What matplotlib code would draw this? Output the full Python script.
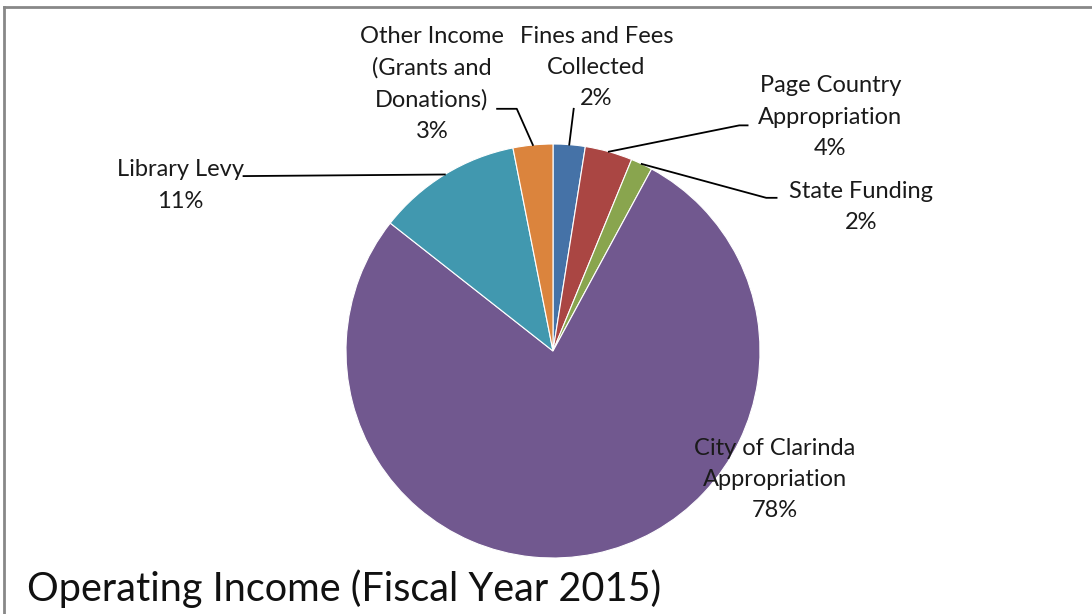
import numpy as np
import matplotlib.pyplot as plt
from matplotlib.lines import Line2D

labels = ['Fines and Fees\nCollected', 'Page Country\nAppropriation', 'State Funding',
          'City of Clarinda\nAppropriation', 'Library Levy',
          'Other Income\n(Grants and\nDonations)']
values = [2.5, 3.7, 1.7, 77.7, 11.3, 3.1]
pct_text = ['2%', '4%', '2%', '78%', '11%', '3%']
colors = ['#4572A7', '#AA4643', '#89A54E', '#71588F', '#4198AF', '#DB843D']

# label text centres (pie data units) and leader elbows
text_pos = [(0.21, 1.37), (1.34, 1.13), (1.49, 0.695), (1.07, -0.62), (-1.80, 0.80), (-0.585, 1.29)]
elbow = [None, (0.90, 1.09), (1.03, 0.74), None, None, (-0.175, 1.17)]
text_end = [(0.10, 1.17), (0.94, 1.09), (1.08, 0.74), None, (-1.495, 0.845), (-0.27, 1.17)]

plt.rcParams['font.family'] = ['Lato', 'DejaVu Sans']

fig = plt.figure(figsize=(10.92, 6.14), dpi=100)
ax = fig.add_axes([346 / 1092, 56 / 614, 414 / 1092, 414 / 614])

wedges, _ = ax.pie(values, colors=colors, startangle=90, counterclock=False,
                   radius=1, wedgeprops=dict(edgecolor='white', linewidth=0.8))
ax.set_xlim(-1, 1)
ax.set_ylim(-1, 1)
ax.set_aspect('equal')
ax.axis('off')

total = sum(values)
cum = np.cumsum([0] + values[:-1])
for i, (lab, pct) in enumerate(zip(labels, pct_text)):
    tx, ty = text_pos[i]
    ax.text(tx, ty, lab + '\n' + pct, ha='center', va='center', fontsize=17,
            color='#1a1a1a', linespacing=1.6, clip_on=False)
    if text_end[i] is None:
        continue
    mid = (cum[i] + values[i] / 2) / total * 2 * np.pi
    ex, ey = np.sin(mid), np.cos(mid)
    pts = [(ex, ey)]
    if elbow[i] is not None:
        pts.append(elbow[i])
    pts.append(text_end[i])
    xs, ys = zip(*pts)
    ax.add_line(Line2D(xs, ys, color='black', linewidth=1.3, clip_on=False))

fig.text(27 / 1092, 1 - 589 / 614, 'Operating Income (Fiscal Year 2015)', fontsize=28.5,
         va='center', ha='left', color='#111111')

fig.add_artist(Line2D([4 / 1092, 1], [1 - 7 / 614, 1 - 7 / 614], color='#888888', linewidth=2))
fig.add_artist(Line2D([4 / 1092, 4 / 1092], [0, 1 - 7 / 614], color='#888888', linewidth=2))

fig.savefig('out.png', dpi=100)
